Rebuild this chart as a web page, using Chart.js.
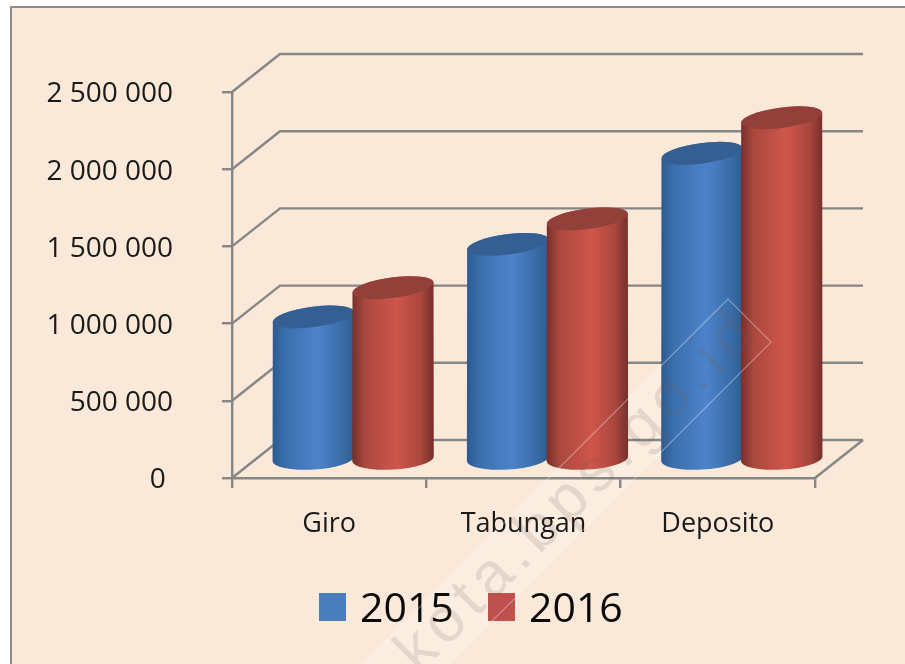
<!DOCTYPE html>
<html>
<head>
<meta charset="utf-8">
<style>
html,body{margin:0;padding:0;background:#fff;overflow:hidden}
#wrap{width:905px;height:664px}
canvas{display:block;filter:blur(0.4px)}
</style>
<script src="https://cdn.jsdelivr.net/npm/chart.js@4"></script>
</head>
<body>
<div id="wrap"><canvas id="c" width="905" height="664"></canvas></div>
<script>
const categories = ['Giro', 'Tabungan', 'Deposito'];
const series2015 = [920000, 1390000, 1980000];
const series2016 = [1110000, 1555000, 2210000];
const seriesNames = ['2015', '2016'];
const yTickLabels = ['0\u00a0', '500 000', '1 000 000', '1 500 000', '2 000 000', '2 500 000'];
const watermark = 'kota.bps.go.id';

const FONT = '"Open Sans", sans-serif';
const AXIS = '#868686';
const DEPTH_X = 48, DEPTH_Y = 38;
const looks = [
  { fill:'#4a7ebb', top:'#355f93', stops:[[0,'#2c5a8f'],[.16,'#3b70ae'],[.55,'#4d83cb'],[.84,'#3a6da9'],[1,'#2e5c90']] },
  { fill:'#c0504d', top:'#94403a', stops:[[0,'#75302a'],[.16,'#ab483e'],[.55,'#cf564b'],[.84,'#aa473e'],[1,'#752f2a']] }
];

function cylinder(ctx, cx, yTop, yBase, rx, look){
  const a = rx, bT = 10.2, bB = 10.8;
  const thT = -7.5 * Math.PI / 180, thB = -3.5 * Math.PI / 180;
  const tT = Math.atan2(-bT * Math.sin(thT), a * Math.cos(thT));
  const tB = Math.atan2(-bB * Math.sin(thB), a * Math.cos(thB));
  const g = ctx.createLinearGradient(cx - a, 0, cx + a, 0);
  look.stops.forEach(s => g.addColorStop(s[0], s[1]));
  ctx.beginPath();
  ctx.ellipse(cx, yBase, a, bB, thB, tB, tB + Math.PI, false);
  ctx.ellipse(cx, yTop, a, bT, thT, tT + Math.PI, tT + 2 * Math.PI, false);
  ctx.closePath();
  ctx.fillStyle = g;
  ctx.fill();
  ctx.beginPath();
  ctx.ellipse(cx, yTop, a, bT, thT, 0, 2 * Math.PI);
  ctx.fillStyle = look.top;
  ctx.fill();
}

function bandPath(ctx){
  ctx.translate(749.5, 320.5);
  ctx.rotate(-Math.PI / 4);
  ctx.beginPath();
  ctx.rect(-700, -30.5, 700, 61);
}

const scene = {
  id: 'scene',
  beforeDraw(chart){
    const { ctx, width, height } = chart;
    ctx.save();
    ctx.fillStyle = '#fff';
    ctx.fillRect(0, 0, width, height);
    ctx.fillStyle = '#fae8d8';
    ctx.fillRect(11, 7, width, height);
    ctx.strokeStyle = '#8c8c8c';
    ctx.lineWidth = 2;
    ctx.beginPath();
    ctx.moveTo(11, height); ctx.lineTo(11, 7); ctx.lineTo(width, 7);
    ctx.stroke();
    bandPath(ctx);
    ctx.fillStyle = 'rgba(255,255,255,0.22)';
    ctx.fill();
    ctx.restore();
  },
  beforeDatasetsDraw(chart){
    const { ctx, chartArea: ca, scales } = chart;
    ctx.save();
    ctx.strokeStyle = AXIS;
    ctx.lineWidth = 2.4;
    ctx.lineJoin = 'miter';
    scales.y.ticks.forEach(t => {
      const y = scales.y.getPixelForValue(t.value);
      ctx.beginPath();
      ctx.moveTo(ca.left, y);
      ctx.lineTo(ca.left + DEPTH_X, y - DEPTH_Y);
      ctx.lineTo(ca.right + DEPTH_X, y - DEPTH_Y);
      ctx.stroke();
    });
    ctx.beginPath();
    ctx.moveTo(ca.right, ca.bottom);
    ctx.lineTo(ca.right + DEPTH_X, ca.bottom - DEPTH_Y);
    ctx.stroke();
    chart.data.datasets.forEach((ds, i) => {
      chart.getDatasetMeta(i).data.forEach(el => {
        const p = el.getProps(['x', 'y', 'base', 'width'], true);
        cylinder(ctx, p.x + DEPTH_X / 2, p.y - DEPTH_Y / 2, p.base - DEPTH_Y / 2 + 1, p.width / 2 + 1, looks[i]);
      });
    });
    ctx.restore();
    return false;
  },
  afterDraw(chart){
    const { ctx } = chart;
    ctx.save();
    // legend
    ctx.font = '41px ' + FONT;
    ctx.textBaseline = 'alphabetic';
    ctx.textAlign = 'left';
    const xs = [319, 488];
    chart.data.datasets.forEach((ds, i) => {
      ctx.fillStyle = ds.backgroundColor;
      ctx.fillRect(xs[i], 593, 27, 28);
      ctx.fillStyle = '#0a0a0a';
      ctx.fillText(ds.label, xs[i] + 41, 622);
    });
    // watermark outline and text
    bandPath(ctx);
    ctx.strokeStyle = 'rgba(255,255,255,0.4)';
    ctx.lineWidth = 1;
    ctx.stroke();
    ctx.font = '62px "Liberation Sans", sans-serif';
    ctx.letterSpacing = '7px';
    ctx.textAlign = 'right';
    ctx.textBaseline = 'alphabetic';
    ctx.fillStyle = 'rgba(110,95,85,0.16)';
    ctx.fillText(watermark, 0, 17);
    ctx.restore();
  }
};

new Chart(document.getElementById('c'), {
  type: 'bar',
  plugins: [scene],
  data: {
    labels: categories,
    datasets: [
      { label: seriesNames[0], data: series2015, backgroundColor: looks[0].fill, categoryPercentage: 0.82, barPercentage: 1 },
      { label: seriesNames[1], data: series2016, backgroundColor: looks[1].fill, categoryPercentage: 0.82, barPercentage: 1 }
    ]
  },
  options: {
    responsive: false,
    animation: false,
    layout: { padding: { top: 92, right: 90, left: 0, bottom: 0 } },
    plugins: { legend: { display: false }, tooltip: { enabled: false } },
    scales: {
      x: {
        afterFit(s){ s.height = 186; },
        grid: { drawOnChartArea: false, color: AXIS, lineWidth: 2.4, tickLength: 10, offset: true },
        border: { color: AXIS, width: 2.4 },
        ticks: { color: '#1a1a1a', font: { family: FONT, size: 27 }, padding: 20, maxRotation: 0 }
      },
      y: {
        min: 0, max: 2500000,
        afterFit(s){ s.width = 232; },
        grid: { drawOnChartArea: false, color: AXIS, lineWidth: 2.4, tickLength: 10 },
        border: { color: AXIS, width: 2.4 },
        ticks: {
          stepSize: 500000,
          color: '#1a1a1a',
          font: { family: FONT, size: 28, lineHeight: 0.18 },
          padding: 49,
          callback(v){ return ['', yTickLabels[Math.round(v / 500000)]]; }
        }
      }
    }
  }
});
</script>
</body>
</html>
